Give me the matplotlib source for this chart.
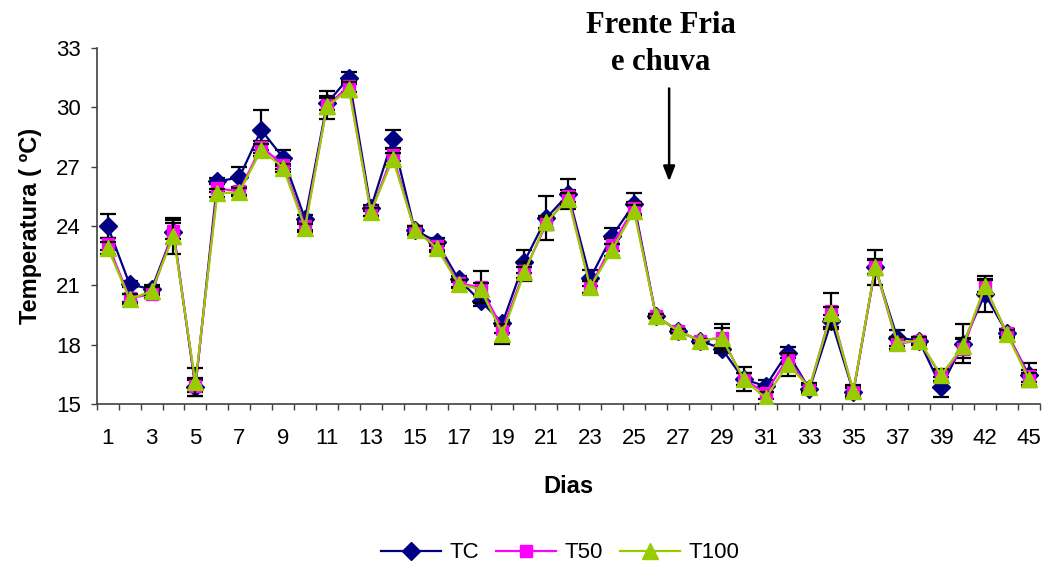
import numpy as np
import matplotlib.pyplot as plt
from matplotlib.ticker import FixedLocator

# Daily mean temperature for the three treatments
dias = list(range(1, 41)) + [42, 44, 45]

tc = [24.0, 21.05, 20.8, 23.7, 15.85, 26.25, 26.45, 28.85, 27.45, 24.35,
      30.2, 31.5, 24.9, 28.4, 23.8, 23.2, 21.3, 20.2, 19.1, 22.2,
      24.4, 25.6, 21.35, 23.5, 25.1, 19.45, 18.7, 18.2, 17.8, 16.25,
      15.9, 17.6, 15.75, 19.2, 15.6, 21.9, 18.35, 18.2, 15.85, 18.05,
      20.55, 18.6, 16.45]
t50 = [23.1, 20.35, 20.55, 23.75, 15.9, 25.9, 25.75, 28.0, 27.1, 24.0,
       30.1, 31.05, 24.7, 27.6, 23.75, 23.0, 21.1, 20.9, 18.8, 21.7,
       24.1, 25.5, 20.9, 23.05, 24.9, 19.45, 18.7, 18.2, 18.35, 16.25,
       15.55, 17.3, 15.8, 19.7, 15.6, 21.9, 18.05, 18.2, 16.4, 17.8,
       20.9, 18.6, 16.4]
t100 = [22.9, 20.3, 20.7, 23.5, 16.1, 25.65, 25.7, 27.85, 26.95, 23.9,
        30.05, 30.9, 24.7, 27.4, 23.8, 22.9, 21.05, 20.8, 18.55, 21.65,
        24.2, 25.35, 20.9, 22.8, 24.75, 19.45, 18.7, 18.2, 18.35, 16.25,
        15.3, 17.0, 15.85, 19.6, 15.65, 21.95, 18.1, 18.2, 16.45, 17.95,
        20.95, 18.55, 16.25]

# standard errors
tc_err = [0.6, 0.15, 0.2, 0.6, 0.45, 0.15, 0.55, 1.0, 0.4, 0.2,
          0.35, 0.3, 0.15, 0.45, 0.2, 0.2, 0.15, 0.25, 0.15, 0.6,
          1.1, 0.75, 0.4, 0.4, 0.55, 0.1, 0.1, 0.1, 0.2, 0.6,
          0.3, 0.3, 0.2, 0.3, 0.3, 0.9, 0.4, 0.15, 0.5, 1.0,
          0.9, 0.2, 0.6]
t50_err = [0.3, 0.2, 0.2, 0.4, 0.3, 0.2, 0.2, 0.3, 0.2, 0.2,
           0.7, 0.3, 0.2, 0.3, 0.2, 0.2, 0.2, 0.8, 0.2, 0.5,
           0.3, 0.3, 0.3, 0.3, 0.3, 0.1, 0.1, 0.1, 0.7, 0.3,
           0.3, 0.3, 0.2, 0.9, 0.2, 0.4, 0.3, 0.2, 0.3, 0.5,
           0.4, 0.2, 0.3]
t100_err = [0.3, 0.25, 0.2, 0.9, 0.7, 0.2, 0.2, 0.3, 0.2, 0.2,
            0.4, 0.4, 0.2, 0.3, 0.2, 0.2, 0.2, 0.3, 0.5, 0.3,
            0.3, 0.3, 0.3, 0.3, 0.3, 0.1, 0.1, 0.1, 0.5, 0.3,
            0.3, 0.6, 0.2, 0.3, 0.3, 0.4, 0.3, 0.2, 0.3, 0.4,
            0.3, 0.2, 0.3]

plt.rcParams['font.family'] = ['Liberation Sans', 'DejaVu Sans']

x = np.arange(len(dias))

fig = plt.figure(figsize=(10.49, 5.67), dpi=100)
ax = fig.add_axes([0.0922, 0.2875, 0.899, 0.628])

series = [
    ('TC', tc, tc_err, '#000080', 'D', 9),
    ('T50', t50, t50_err, '#FF00FF', 's', 9),
    ('T100', t100, t100_err, '#99CC00', '^', 11),
]
for i, (name, y, err, col, mk, ms) in enumerate(series):
    ax.errorbar(x, y, yerr=err, fmt='none', ecolor='black', elinewidth=1.6,
                capsize=6, capthick=1.6, zorder=2 + i * 2)
    ax.plot(x, y, color=col, marker=mk, markersize=ms, linewidth=1.6,
            label=name, zorder=3 + i * 2)

ax.set_xlim(-0.5, len(dias) - 0.5)
ax.set_ylim(15, 33)
ax.set_yticks(np.arange(15, 34, 3))

# category labels every second day, tick marks between categories
ax.set_xticks(x[::2])
ax.set_xticklabels([str(d) for d in dias[::2]])
ax.xaxis.set_minor_locator(FixedLocator(np.arange(-0.5, len(dias), 1)))
ax.tick_params(axis='x', which='major', length=0, pad=17, labelsize=16)
ax.tick_params(axis='x', which='minor', length=4.5, width=1, color='#404040')
ax.tick_params(axis='y', length=4.5, width=1, color='#404040', pad=7,
               labelsize=16)

for s in ['top', 'right']:
    ax.spines[s].set_visible(False)
for s in ['left', 'bottom']:
    ax.spines[s].set_color('#404040')
    ax.spines[s].set_linewidth(1.2)

ax.set_ylabel('Temperatura ( ºC)', fontsize=17, fontweight='bold', labelpad=10)
ax.set_xlabel('Dias', fontsize=17, fontweight='bold', labelpad=19)

# cold front marker
ax.annotate('', xy=(25.6, 26.25), xytext=(25.6, 30.95),
            arrowprops=dict(arrowstyle='-|>,head_length=0.9,head_width=0.35',
                            color='black', lw=1.8, shrinkA=0, shrinkB=0))
fig.text(0.630, 1 - 33 / 567, 'Frente Fria', ha='center', va='baseline',
         fontsize=22, fontweight='bold', family=['Liberation Serif'])
fig.text(0.630, 1 - 70 / 567, 'e chuva', ha='center', va='baseline',
         fontsize=22, fontweight='bold', family=['Liberation Serif'])

fig.legend(loc='center', bbox_to_anchor=(0.534, 0.025), ncol=3, frameon=False,
           fontsize=16, handlelength=2.7, handletextpad=0.35,
           columnspacing=0.8)

fig.savefig('out.png', dpi=100)
